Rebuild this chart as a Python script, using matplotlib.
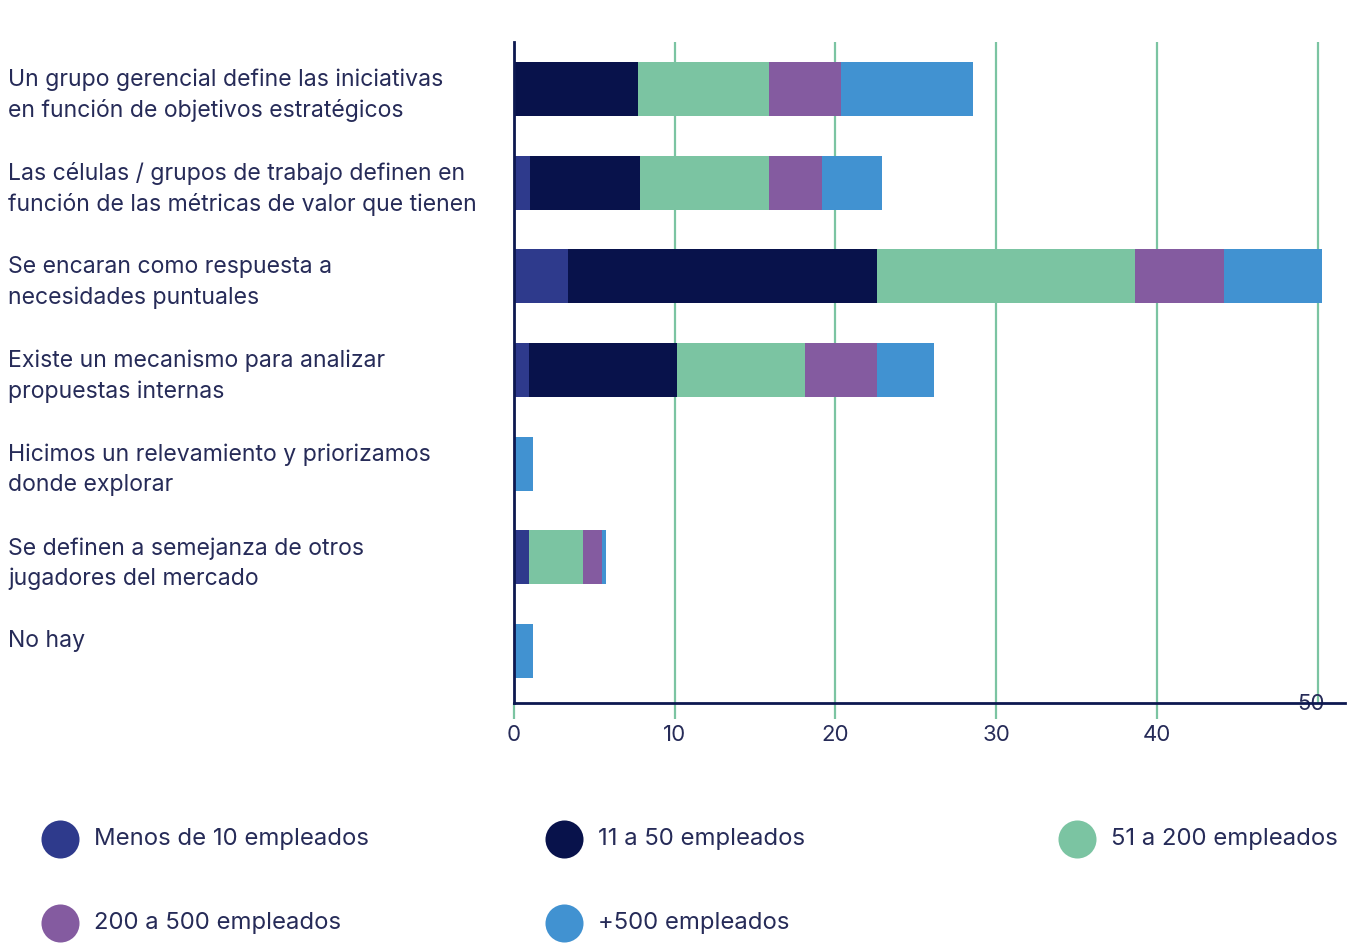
import matplotlib.pyplot as plt
from matplotlib.transforms import ScaledTranslation

plt.rcParams['font.family'] = ['Inter', 'DejaVu Sans']

categories = [
    "Un grupo gerencial define las iniciativas\nen función de objetivos estratégicos",
    "Las células / grupos de trabajo definen en\nfunción de las métricas de valor que tienen",
    "Se encaran como respuesta a\nnecesidades puntuales",
    "Existe un mecanismo para analizar\npropuestas internas",
    "Hicimos un relevamiento y priorizamos\ndonde explorar",
    "Se definen a semejanza de otros\njugadores del mercado",
    "No hay",
]
series_names = ["Menos de 10 empleados", "11 a 50 empleados", "51 a 200 empleados",
                "200 a 500 empleados", "+500 empleados"]
menos_10 = [0, 1.0, 3.36, 0.93, 0, 0.93, 0]
e11_50 = [7.7, 6.84, 19.21, 9.21, 0, 0, 0]
e51_200 = [8.15, 8.02, 16.05, 7.96, 0, 3.36, 0]
e200_500 = [4.5, 3.29, 5.53, 4.47, 0, 1.18, 0]
e500_plus = [8.2, 3.74, 6.1, 3.55, 1.2, 0.25, 1.2]
ticks = [0, 10, 20, 30, 40, 50]

series = [menos_10, e11_50, e51_200, e200_500, e500_plus]
colors = ["#2e3a8c", "#08124b", "#7bc4a2", "#845ba0", "#4192d1"]
text_color = "#262b58"
navy = "#0d1850"
green = "#7bc4a2"

fig = plt.figure(figsize=(13.51, 9.44), dpi=100)
ax = fig.add_axes([514 / 1351, 241 / 944, 831 / 1351, 661 / 944])

y = list(range(len(categories)))
left = [0] * len(categories)
for vals, col, name in zip(series, colors, series_names):
    ax.barh(y, vals, left=left, height=0.576, color=col, label=name, zorder=3)
    left = [l + v for l, v in zip(left, vals)]

ax.set_xlim(0, 51.7)
ax.set_ylim(6.555, -0.5)
ax.set_xticks(ticks)
ax.set_xticklabels([str(t) for t in ticks])
ax.grid(axis='x', color=green, linewidth=1.6, zorder=0)

for s in ['top', 'right']:
    ax.spines[s].set_visible(False)
for s in ['left', 'bottom']:
    ax.spines[s].set_color(navy)
    ax.spines[s].set_linewidth(2)
    ax.spines[s].set_zorder(4)

ax.tick_params(axis='x', direction='out', length=11.5, width=1.6, color=green,
               labelsize=16, labelcolor=text_color, pad=4)
xt = ax.xaxis.get_major_ticks()
xt[0].tick1line.set_color(navy)
xt[-1].tick1line.set_visible(False)
lbl50 = xt[-1].label1
lbl50.set_transform(lbl50.get_transform() + ScaledTranslation(-5 / 72, 22 / 72, fig.dpi_scale_trans))

ax.set_yticks(y)
ax.set_yticklabels(categories, fontsize=16.6, color=text_color, ha='left',
                   linespacing=1.45)
ax.tick_params(axis='y', length=0, pad=506 * 72 / 100)
# "No hay" sits a bit above its bar in the original
nohay = ax.yaxis.get_major_ticks()[-1].label1
nohay.set_transform(nohay.get_transform() + ScaledTranslation(0, 9 / 72, fig.dpi_scale_trans))

# legend
lax = fig.add_axes([0, 0, 1, 1], zorder=-1)
lax.set_xlim(0, 1351)
lax.set_ylim(944, 0)
lax.axis('off')
legend_cols = [60, 564, 1077]
legend_rows = [839, 923]
for i, (name, col) in enumerate(zip(series_names, colors)):
    cx = legend_cols[i % 3]
    cy = legend_rows[i // 3]
    lax.scatter([cx], [cy], s=750, color=col, zorder=3, linewidths=0)
    lax.text(cx + 34, cy, name, fontsize=17.2, color=text_color, va='center', ha='left')

fig.savefig("out.png", dpi=100)
